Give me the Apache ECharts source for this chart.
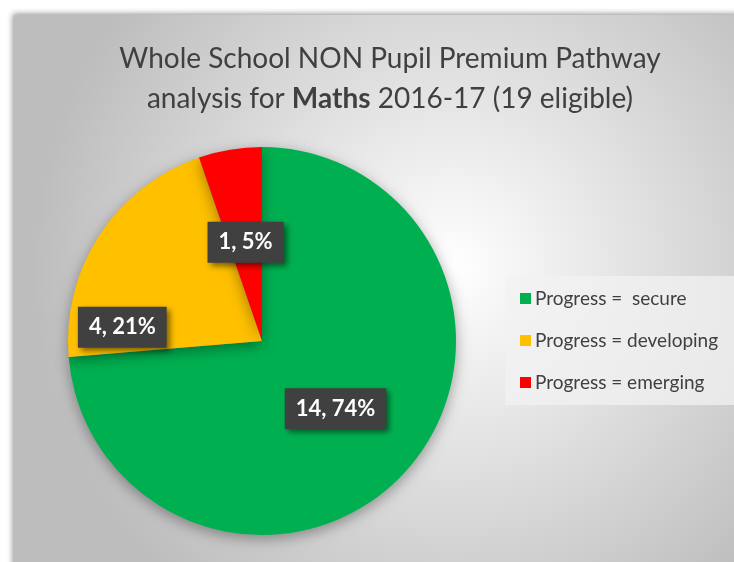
<!DOCTYPE html>
<html>
<head>
<meta charset="utf-8">
<script src="https://cdn.jsdelivr.net/npm/echarts@6/dist/echarts.min.js"></script>
<style>
  html, body { margin: 0; padding: 0; background: #fff; }
  #chart { width: 734px; height: 562px; }
</style>
</head>
<body>
<div id="chart"></div>
<script>
// data
let categories = ['Progress =  secure', 'Progress = developing', 'Progress = emerging']
let pupils = [14, 4, 1]
let colours = ['#00b050', '#ffc000', '#ff0000']

let myChart = echarts.init(document.getElementById('chart'))
let font = 'Lato, "Open Sans", sans-serif'

let option = {
    backgroundColor: '#fff',
    animation: false,
    graphic: [{
        // chart panel with a light spot in the middle
        type: 'rect',
        shape: { x: 14, y: 15, width: 730, height: 560 },
        style: {
            fill: {
                type: 'radial', x: 0.6, y: 0.45, r: 0.75,
                colorStops: [
                    { offset: 0, color: '#ffffff' },
                    { offset: 1, color: '#bdbdbd' }
                ]
            },
            shadowBlur: 6,
            shadowColor: 'rgba(0,0,0,0.45)',
            shadowOffsetX: -1,
            shadowOffsetY: -1
        },
        z: -10
    }],
    title: {
        text: 'Whole School NON Pupil Premium Pathway\nanalysis for {b|Maths} 2016-17 (19 eligible)',
        left: 385,
        top: 34,
        textAlign: 'center',
        textStyle: {
            fontFamily: font,
            fontSize: 28,
            fontWeight: 'normal',
            color: '#404040',
            lineHeight: 40,
            rich: {
                b: { fontFamily: font, fontSize: 28, fontWeight: 'bold', color: '#404040', lineHeight: 40 }
            }
        }
    },
    legend: {
        orient: 'vertical',
        left: 505,
        top: 276,
        padding: [13, 17, 13, 15],
        itemGap: 23,
        icon: 'rect',
        itemWidth: 11,
        itemHeight: 11,
        backgroundColor: 'rgba(242,242,242,0.75)',
        textStyle: { fontFamily: font, fontSize: 19, color: '#404040', padding: [0, 0, 0, -1] },
        data: categories
    },
    series: [{
        type: 'pie',
        center: [262, 341],
        radius: [0, 194],
        startAngle: 90,
        clockwise: true,
        percentPrecision: 0,
        itemStyle: {
            shadowBlur: 14,
            shadowColor: 'rgba(0,0,0,0.35)',
            shadowOffsetY: 4
        },
        label: {
            position: 'inside',
            formatter: '{c}, {d}%',
            fontFamily: font,
            fontSize: 22,
            fontWeight: 'bold',
            color: '#fff',
            backgroundColor: '#404040',
            padding: [10, 11, 9, 11],
            shadowBlur: 6,
            shadowColor: 'rgba(0,0,0,0.5)',
            shadowOffsetX: 3,
            shadowOffsetY: 3
        },
        labelLayout: function(params) {
            // the developing label sits out to the left, like the original
            if (params.dataIndex === 1) {
                return { dx: -56, dy: 41 }
            }
            return {}
        },
        data: categories.map(function(name, i) {
            return { name: name, value: pupils[i], itemStyle: { color: colours[i] } }
        })
    }]
}
myChart.setOption(option)
</script>
</body>
</html>
